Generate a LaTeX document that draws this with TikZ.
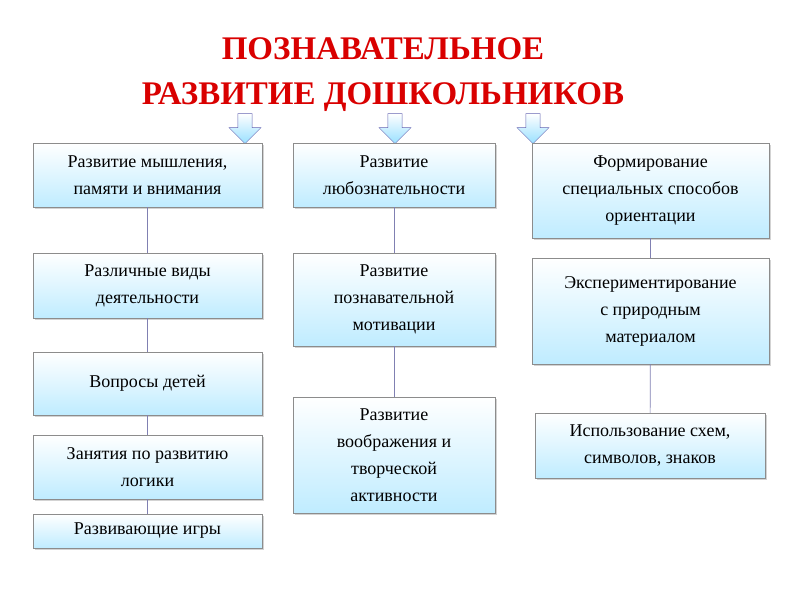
\documentclass[tikz,border=0pt]{standalone}
\usepackage{fontspec}
\setmainfont{Liberation Serif}
\usetikzlibrary{shadows,shapes.arrows}
\begin{document}
\begin{tikzpicture}[x=1pt,y=-1pt,
  bx/.style={draw=black!45,top color=white,bottom color=blue!30!cyan!25,drop shadow={opacity=0.35,shadow xshift=2pt,shadow yshift=-2pt},align=center,font=\fontsize{18}{27}\selectfont,inner sep=2pt},
  ln/.style={draw=blue!40!black!50,line width=0.7pt},
  ar/.style={single arrow,shape border rotate=270,draw=blue!50!black!60,top color=white,bottom color=blue!30!cyan!40,minimum width=32pt,single arrow head extend=4pt,minimum height=30pt,inner sep=3pt}]
\useasboundingbox (0,0) rectangle (800,600);
\node[font=\bfseries\fontsize{33}{45}\selectfont,text=red!85!black,align=center] (t) at (383,75) {ПОЗНАВАТЕЛЬНОЕ\\РАЗВИТИЕ ДОШКОЛЬНИКОВ};
\node[ar] (a1) at (245,125) {};
\node[ar] (a2) at (395,125) {};
\node[ar] (a3) at (533,125) {};
\newcommand{\bxn}[6]{\node[bx,minimum width=#3-#2,minimum height=#5-#4] (#1) at ({(#2+#3)/2},{(#4+#5)/2}) {#6};}
\bxn{b1}{33}{262}{143}{207}{Развитие мышления,\\памяти и внимания}
\bxn{b2}{33}{262}{253}{318}{Различные виды\\деятельности}
\bxn{b3}{33}{262}{352}{415}{Вопросы детей}
\bxn{b4}{33}{262}{435}{499}{Занятия по развитию\\логики}
\bxn{b5}{33}{262}{514}{548}{Развивающие игры}
\bxn{c1}{293}{495}{143}{207}{Развитие\\любознательности}
\bxn{c2}{293}{495}{253}{346}{Развитие\\познавательной\\мотивации}
\bxn{c3}{293}{495}{397}{513}{Развитие\\воображения и\\творческой\\активности}
\bxn{d1}{532}{769}{143}{238}{Формирование\\специальных способов\\ориентации}
\bxn{d2}{532}{769}{258}{364}{Экспериментирование\\с природным\\материалом}
\bxn{d3}{535}{765}{413}{478}{Использование схем,\\символов, знаков}
\draw[ln] (b1)--(b2) (b2)--(b3) (b3)--(b4) (b4)--(b5);
\draw[ln] (c1)--(c2) (c2)--(c3);
\draw[ln] (d1)--(d2) (d2)--(d3);
\end{tikzpicture}
\end{document}
